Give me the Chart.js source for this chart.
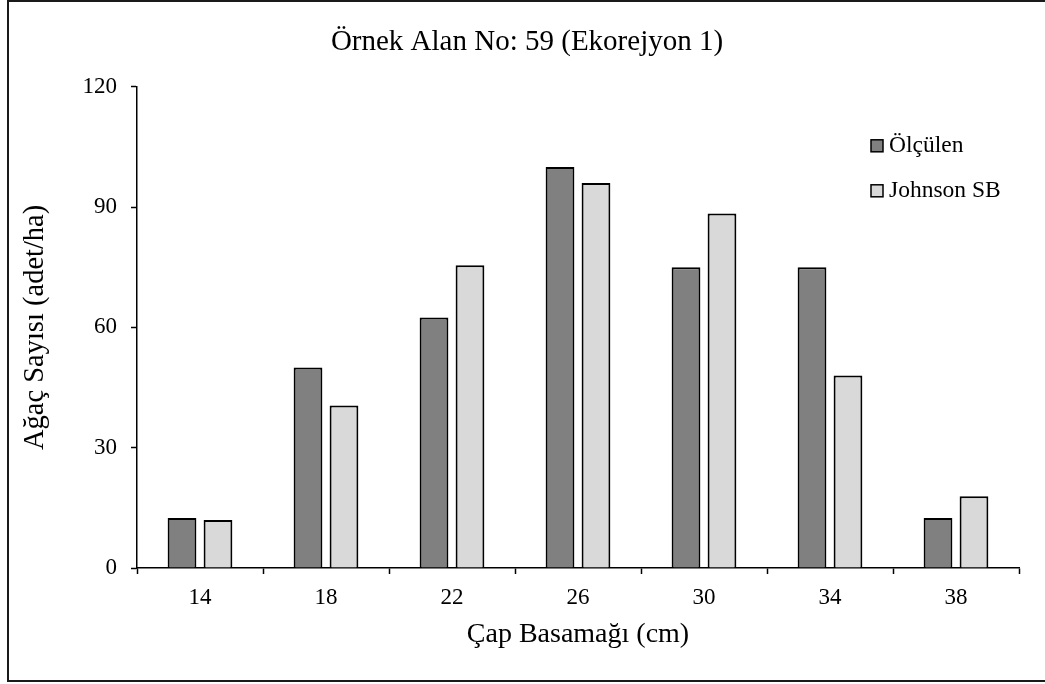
<!DOCTYPE html>
<html>
<head>
<meta charset="utf-8">
<script src="https://cdn.jsdelivr.net/npm/chart.js@4"></script>
<style>
  html, body { margin: 0; padding: 0; background: #fff; }
  #wrap { width: 1045px; height: 684px; }
</style>
</head>
<body>
<div id="wrap"><canvas id="chart" width="1045" height="684"></canvas></div>
<script>
const categories = ["14", "18", "22", "26", "30", "34", "38"]
const olculen = [12.5, 50, 62.5, 100, 75, 75, 12.5]
const johnsonSB = [12, 40.5, 75.5, 96, 88.4, 48, 17.9]
const yTicks = [0, 30, 60, 90, 120]

const serif = "'Liberation Serif', 'Times New Roman', serif"

// frame around the whole figure (right edge falls outside the picture)
const framePlugin = {
  id: "frame",
  beforeDraw(chart) {
    const ctx = chart.ctx
    ctx.save()
    ctx.fillStyle = "#fff"
    ctx.fillRect(0, 0, chart.width, chart.height)
    ctx.strokeStyle = "#1a1a1a"
    ctx.lineWidth = 2
    ctx.strokeRect(8, 1, chart.width + 20, chart.height - 4)
    ctx.restore()
  },
}

// legend sits inside the plot, top right
const boxLegend = {
  id: "boxLegend",
  afterDraw(chart) {
    const ctx = chart.ctx
    const area = chart.chartArea
    ctx.save()
    ctx.font = "23.5px " + serif
    ctx.textBaseline = "middle"
    chart.data.datasets.forEach(function (ds, i) {
      const x = area.right - 148
      const y = area.top + 59 + i * 45
      ctx.fillStyle = ds.backgroundColor
      ctx.fillRect(x, y - 6, 12, 12)
      ctx.strokeStyle = "#000"
      ctx.lineWidth = 1.5
      ctx.strokeRect(x, y - 6, 12, 12)
      ctx.fillStyle = "#000"
      ctx.fillText(ds.label, x + 18, y)
    })
    ctx.restore()
  },
}

const config = {
  type: "bar",
  data: {
    labels: categories,
    datasets: [
      {
        label: "Ölçülen",
        data: olculen,
        backgroundColor: "#808080",
        borderColor: "#000",
        borderWidth: 2,
      },
      {
        label: "Johnson SB",
        data: johnsonSB,
        backgroundColor: "#d9d9d9",
        borderColor: "#000",
        borderWidth: 2,
      },
    ],
  },
  options: {
    responsive: false,
    animation: false,
    categoryPercentage: 0.571,
    barPercentage: 0.8,
    layout: {
      // left padding keeps the figure title centred like the original
      padding: { left: 35, right: 26, top: 0, bottom: 0 },
    },
    plugins: {
      legend: { display: false },
      tooltip: { enabled: false },
      title: {
        display: true,
        text: "Örnek Alan No: 59 (Ekorejyon 1)",
        color: "#000",
        font: { family: serif, size: 29, weight: "normal" },
        padding: { top: 25, bottom: 27 },
      },
    },
    scales: {
      x: {
        afterFit: function (scale) {
          scale.height = 116
        },
        border: { color: "#000", width: 1.5 },
        grid: {
          offset: true,
          drawOnChartArea: false,
          drawTicks: true,
          tickLength: 6,
          tickColor: "#000",
          tickWidth: 1.5,
        },
        ticks: {
          color: "#000",
          padding: 10,
          font: { family: serif, size: 23 },
        },
        title: {
          display: true,
          text: "Çap Basamağı (cm)",
          color: "#000",
          font: { family: serif, size: 28 },
          padding: { top: 0, bottom: 33 },
        },
      },
      y: {
        min: 0,
        max: 120,
        afterFit: function (scale) {
          scale.width = 102
        },
        afterBuildTicks: function (scale) {
          scale.ticks = yTicks.map(function (v) {
            return { value: v }
          })
        },
        border: { color: "#000", width: 1.5 },
        grid: {
          drawOnChartArea: false,
          drawTicks: true,
          tickLength: 6,
          tickColor: "#000",
          tickWidth: 1.5,
        },
        ticks: {
          color: "#000",
          padding: 14,
          font: { family: serif, size: 23 },
        },
        title: {
          display: true,
          text: "Ağaç Sayısı (adet/ha)",
          color: "#000",
          font: { family: serif, size: 28.5 },
          padding: { top: -17, bottom: 0 },
        },
      },
    },
  },
  plugins: [framePlugin, boxLegend],
}

const chart = new Chart(document.getElementById("chart"), config)
</script>
</body>
</html>
